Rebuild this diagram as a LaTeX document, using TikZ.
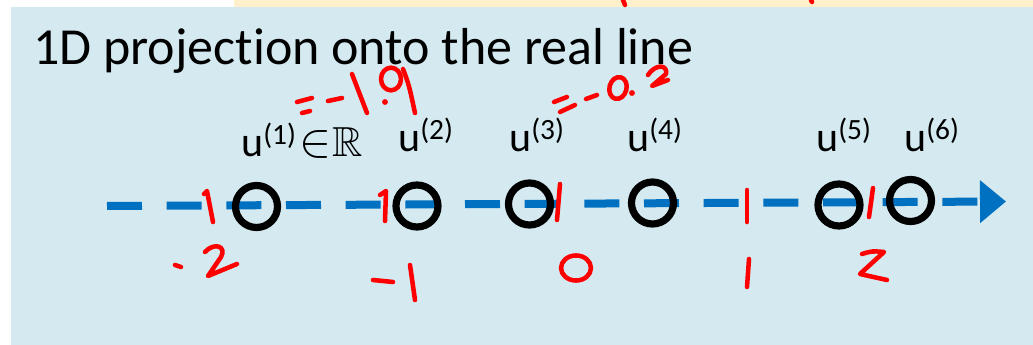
\documentclass[tikz,border=0pt]{standalone}
\usepackage{fontspec}
\setmainfont{Carlito}[Ligatures=NoCommon]
\usepackage{amssymb}
\usetikzlibrary{arrows.meta, positioning}
\definecolor{bgblu}{HTML}{D4EAF0}
\definecolor{bgyel}{HTML}{FFEFCA}
\definecolor{axblu}{HTML}{0070C0}
\definecolor{pen}{HTML}{FF0000}
\tikzset{
  ttl/.style  = {inner sep=0pt, font=\fontsize{39pt}{46pt}\selectfont},
  lbl/.style  = {inner sep=0pt, font=\fontsize{31.5pt}{38pt}\selectfont},
  pt/.style   = {circle, draw=black, line width=5.4pt, minimum size=31.5pt,
                 inner sep=0pt},
  axis/.style = {draw=axblu, line width=6pt, dash pattern=on 26.25pt off 18.5pt,
                 -{Triangle[length=19.5pt, width=31pt]}},
  ink/.style  = {draw=pen, line width=3.4pt, line cap=round, line join=round},
}

\begin{document}
\begin{tikzpicture}[x=0.75pt, y=-0.75pt]
  \useasboundingbox (0,0) rectangle (1033,345);
  \fill[white] (0,0) rectangle (1033,345);
  \fill[bgyel] (234,0) rectangle (1033,7);
  \fill[bgblu] (11,7) rectangle (1033,345);

  \node[ttl, anchor=base west] (title) at (33,65) {1D projection onto the real line};

  % the real line
  \coordinate (ax0) at (107,206);
  \coordinate (ax1) at (1006,201.5);
  \draw[axis] (ax0) -- (ax1);

  % projected points
  \foreach \i/\x/\y in {1/256.5/206.5, 2/417/206, 3/529.5/204,
                        4/652.5/203, 5/839/205, 6/910.5/200.5}
    \node[pt] (u\i) at (\x,\y) {};

  \node[lbl, anchor=base west] (lu1) at (241,157)
    {u\textsuperscript{(1)}\kern2pt\scalebox{1.45}{$\in$}\kern0.5pt$\mathbb{R}$};
  \foreach \i/\x in {2/398, 3/509, 4/627, 5/816, 6/904}
    \node[lbl, anchor=base west] (lu\i) at (\x,152) {u\textsuperscript{(\i)}};

  % handwriting
  \draw[ink] (623,0) -- (625,5);
  \draw[ink] (811,0) -- (812,2);
  % =-1.9
  \draw[ink] (297,102) -- (312,98);
  \draw[ink] (302,113) -- (310,111);
  \draw[ink] (328,101) -- (342,98);
  \draw[ink] (352,74) -- (367,113);
  \fill[pen] (385,102) circle (2.2pt);
  \draw[ink] (391,79) ellipse [x radius=7.5pt, y radius=8.5pt];
  \draw[ink] (403,69) .. controls (409,85) .. (415,113);
  % =-0.2
  \draw[ink] (554,102) -- (567,97);
  \draw[ink] (560,112) -- (575,105);
  \draw[ink] (586,99) -- (597,95);
  \draw[ink, rotate around={-15:(618,88)}] (618,88) ellipse [x radius=6.4pt, y radius=8.3pt];
  \fill[pen] (632,93) circle (2.2pt);
  \draw[ink] (648,75) .. controls (655,64) and (668,64) .. (666,74) -- (652,86) -- (668,80);
  % ticks
  \draw[ink] (204,194) -- (207,191) -- (213,222);
  \draw[ink] (380,195) -- (386,191) -- (385,221);
  \draw[ink] (560,184) -- (557,220);
  \draw[ink] (747,190) -- (747,222);
  \draw[ink] (873,188) -- (869,217);
  % tick values
  \draw[ink] (175,265) -- (181,267);
  \draw[ink] (205,252) .. controls (214,242) and (227,246) .. (221,257) -- (208,276) -- (237,264);
  \draw[ink] (373,280) -- (393,282);
  \draw[ink] (410,265) -- (415,300);
  \draw[ink] (576,268) ellipse [x radius=11.25pt, y radius=9.4pt];
  \draw[ink] (749,259) -- (747,287);
  \draw[ink] (862,254) .. controls (872,251) .. (884,252) -- (860,274) -- (887,280);
\end{tikzpicture}
\end{document}
